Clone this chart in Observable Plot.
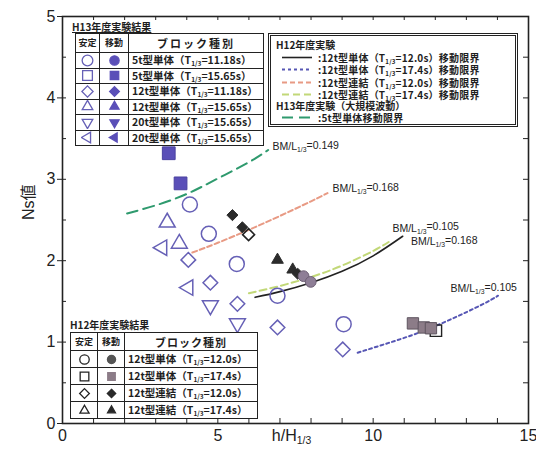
<!DOCTYPE html>
<html>
<head>
<meta charset="utf-8">
<script src="https://cdn.jsdelivr.net/npm/d3@7"></script>
<script src="https://cdn.jsdelivr.net/npm/@observablehq/plot@0.6"></script>
<style>
  html,body{margin:0;padding:0;background:#fff;}
  #wrap{position:relative;width:536px;height:452px;overflow:hidden;background:#fff;}
  #wrap > svg{position:absolute;left:0;top:0;}
  .jp{font-family:"Noto Sans CJK JP","Noto Sans",sans-serif;font-weight:700;color:#1e1e1e;}
  .lg{position:absolute;}
  .lg table{border-collapse:collapse;table-layout:fixed;background:#fff;border:1.6px solid #222;}
  .lg td{border:1.2px solid #222;padding:0;text-align:center;vertical-align:middle;white-space:nowrap;overflow:hidden;line-height:10px;}
  .lg td.name{text-align:left;padding-left:3px;}
  .lg td svg{display:block;margin:0 auto;}
  sub{font-size:0.62em;vertical-align:-0.3em;line-height:0;}
  .ttl{position:absolute;white-space:nowrap;}
  .row{position:absolute;height:11px;line-height:11px;white-space:nowrap;font-size:10px;letter-spacing:0.2px;}
</style>
</head>
<body>
<div id="wrap"></div>
<script>
// ---------------- data ----------------
const xTickValues = [0, 5, 10, 15];
const yTickValues = [0, 1, 2, 3, 4, 5];
const xMinorTicks = [1, 2, 3, 4, 5, 6, 7, 8, 9, 10, 11, 12, 13, 14];
const yMinorTicks = [0.5, 1, 1.5, 2, 2.5, 3, 3.5, 4, 4.5];

// H13 results  [h/H1/3, Ns]
const h13_5t_1118_stable  = [[4.10, 2.69], [4.71, 2.33], [5.61, 1.96], [6.92, 1.57], [9.05, 1.22]];
const h13_5t_1565_moved   = [[3.42, 3.32], [3.80, 2.95]];
const h13_12t_1118_stable = [[4.05, 2.01], [4.76, 1.73], [5.63, 1.47], [6.92, 1.18], [9.02, 0.91]];
const h13_12t_1565_stable = [[3.37, 2.47], [3.76, 2.21]];
const h13_20t_1565_stable = [[4.76, 1.45], [5.63, 1.23]];
const h13_20t_1565b_stable = [[3.21, 2.16], [4.05, 1.67]];

// H12 results
const h12_single_120_moved = [[7.76, 1.81], [7.99, 1.74]];
const h12_single_174_stable = [[12.02, 1.14]];
const h12_single_174_moved  = [[11.28, 1.23], [11.63, 1.18], [11.86, 1.17]];
const h12_joint_120_stable  = [[5.99, 2.32]];
const h12_joint_120_moved   = [[5.47, 2.56], [5.79, 2.41], [7.57, 1.84]];
const h12_joint_174_moved   = [[6.92, 2.01], [7.41, 1.89]];

// movement-limit curves
const limitH13_5t        = [[2.08, 2.58], [3.0, 2.68], [4.0, 2.82], [5.0, 3.01], [6.0, 3.21], [6.62, 3.36]];
const limitH12_single120 = [[6.2, 1.55], [7.0, 1.62], [8.0, 1.73], [9.0, 1.87], [10.0, 2.06], [10.95, 2.30]];
const limitH12_single174 = [[9.5, 0.87], [10.5, 0.99], [11.5, 1.12], [12.5, 1.28], [13.5, 1.46], [14.02, 1.57]];
const limitH12_joint120  = [[4.18, 2.10], [5.0, 2.22], [6.0, 2.38], [7.0, 2.55], [8.0, 2.73], [8.53, 2.83]];
const limitH12_joint174  = [[6.0, 1.60], [7.0, 1.69], [8.0, 1.80], [9.0, 1.94], [10.0, 2.12], [10.5, 2.23]];

const curveLabels = ["BM/L_{1/3}=0.149", "BM/L_{1/3}=0.168", "BM/L_{1/3}=0.105", "BM/L_{1/3}=0.168", "BM/L_{1/3}=0.105"];
const curveLabelX = [6.76, 8.69, 10.62, 11.22, 12.49];
const curveLabelY = [3.40, 2.89, 2.40, 2.23, 1.66];

const h13LegendTitle = "H13年度実験結果";
const h13LegendNames = ["5t型単体（T_{1/3}=11.18s）", "5t型単体（T_{1/3}=15.65s）", "12t型単体（T_{1/3}=11.18s）",
                        "12t型単体（T_{1/3}=15.65s）", "20t型単体（T_{1/3}=15.65s）", "20t型単体（T_{1/3}=15.65s）"];
const h12LegendTitle = "H12年度実験結果";
const h12LegendNames = ["12t型単体（T_{1/3}=12.0s）", "12t型単体（T_{1/3}=17.4s）", "12t型連結（T_{1/3}=12.0s）", "12t型連結（T_{1/3}=17.4s）"];
const tableHeaders = ["安定", "移動", "ブロック種別"];
const lineLegendTitles = ["H12年度実験", "H13年度実験（大規模波動）"];
const lineLegendNames = [":12t型単体（T_{1/3}=12.0s）移動限界", ":12t型単体（T_{1/3}=17.4s）移動限界",
                         ":12t型連結（T_{1/3}=12.0s）移動限界", ":12t型連結（T_{1/3}=17.4s）移動限界", ":5t型単体移動限界"];
const xLabel = "h/H_{1/3}";
const yLabel = "Ns値";

// ---------------- styles ----------------
const PURPLE = "#6660b6";
const PURPLE_FILL = "#5a4fb8";
const INK = "#222";
const lineStyles = {
  single120: {stroke: "#222", strokeWidth: 1.6, dash: null},
  single174: {stroke: "#5656b4", strokeWidth: 2, dash: "3,3"},
  joint120:  {stroke: "#e89a84", strokeWidth: 2, dash: "5,3"},
  joint174:  {stroke: "#c2d878", strokeWidth: 2, dash: "7,4"},
  h13:       {stroke: "#2f9a6e", strokeWidth: 2, dash: "11,6"}
};

const triDown = {draw(ctx, size) {
  const s = Math.sqrt(size) * 0.6824, t = s / 2, u = s * Math.sqrt(3) / 2;
  ctx.moveTo(0, s); ctx.lineTo(-u, -t); ctx.lineTo(u, -t); ctx.closePath();
}};
const triLeft = {draw(ctx, size) {
  const s = Math.sqrt(size) * 0.6824, t = s / 2, u = s * Math.sqrt(3) / 2;
  ctx.moveTo(-s, 0); ctx.lineTo(t, -u); ctx.lineTo(t, u); ctx.closePath();
}};
const SYM = {circle: d3.symbolCircle, square: d3.symbolSquare, diamond: d3.symbolDiamond2,
             triangle: d3.symbolTriangle2, triDown, triLeft};

const X = d => d[0], Y = d => d[1];
const openDot = (data, symbol, r, stroke, sw = 1.5) =>
  Plot.dot(data, {x: X, y: Y, symbol: SYM[symbol], r, stroke, strokeWidth: sw, fill: "none"});
const fillDot = (data, symbol, r, fill, stroke) =>
  Plot.dot(data, {x: X, y: Y, symbol: SYM[symbol], r, fill, stroke, strokeWidth: 1});
const limitLine = (data, st) =>
  Plot.line(data, {x: X, y: Y, stroke: st.stroke, strokeWidth: st.strokeWidth, strokeDasharray: st.dash, curve: "natural"});

const innerW = 536 - 62 - 8, innerH = 452 - 16 - 29;

const chart = Plot.plot({
  width: 536, height: 452,
  marginLeft: 62, marginRight: 8, marginTop: 16, marginBottom: 29,
  x: {domain: [0, 15]},
  y: {domain: [0, 5]},
  style: {fontFamily: "'Liberation Sans', Arial, 'Noto Sans CJK JP', sans-serif", background: "white", color: INK},
  marks: [
    Plot.frame({stroke: INK, strokeWidth: 1.6}),
    Plot.axisX({ticks: xTickValues, tickFormat: "d", tickSize: 0, tickPadding: 6, fontSize: 16, label: null}),
    Plot.axisY({ticks: yTickValues, tickFormat: "d", tickSize: 5, tickPadding: 2, fontSize: 16, label: null}),
    Plot.tickX(xMinorTicks, {x: d => d, insetTop: innerH - 5, stroke: INK, strokeWidth: 1}),
    Plot.tickX(xMinorTicks, {x: d => d, insetBottom: innerH - 4, stroke: INK, strokeWidth: 1}),
    Plot.tickY(yMinorTicks, {y: d => d, insetRight: innerW - 4, stroke: INK, strokeWidth: 1}),
    Plot.tickY(yMinorTicks, {y: d => d, insetLeft: innerW - 5, stroke: INK, strokeWidth: 1}),
    Plot.text([yLabel], {frameAnchor: "left", dx: -34, rotate: -90, text: d => d, fontSize: 16, fill: INK}),
    Plot.text([xLabel], {frameAnchor: "bottom", dy: 17, dx: -4, text: d => d, fontSize: 16, fill: INK}),

    limitLine(limitH13_5t, lineStyles.h13),
    limitLine(limitH12_joint120, lineStyles.joint120),
    limitLine(limitH12_joint174, lineStyles.joint174),
    limitLine(limitH12_single120, lineStyles.single120),
    limitLine(limitH12_single174, lineStyles.single174),

    Plot.text(curveLabels, {x: (d, i) => curveLabelX[i], y: (d, i) => curveLabelY[i], text: d => d,
      textAnchor: "start", fontSize: 10.5, fill: INK}),

    openDot(h13_5t_1118_stable, "circle", 7.5, PURPLE),
    openDot(h13_12t_1118_stable, "diamond", 6.6, PURPLE),
    openDot(h13_12t_1565_stable, "triangle", 7.6, PURPLE),
    openDot(h13_20t_1565_stable, "triDown", 7.6, PURPLE),
    openDot(h13_20t_1565b_stable, "triLeft", 7.4, PURPLE),
    fillDot(h13_5t_1565_moved, "square", 7.2, PURPLE_FILL, "#4a42a0"),

    openDot(h12_single_174_stable, "square", 6.4, INK, 1.4),
    fillDot(h12_single_174_moved, "square", 6.4, "#8c7c88", "#5f5560"),
    fillDot(h12_joint_174_moved, "triangle", 5.6, "#2c2c2c", "#2c2c2c"),
    openDot(h12_joint_120_stable, "diamond", 5.4, INK, 1.6),
    fillDot(h12_joint_120_moved, "diamond", 5.0, "#2a2a2a", "#2a2a2a"),
    fillDot(h12_single_120_moved, "circle", 5.4, "#8e7e96", "#6e6075")
  ]
});

// subscripts for "_{...}" in svg texts
function applySub(svg) {
  const ns = "http://www.w3.org/2000/svg";
  svg.querySelectorAll("text").forEach(t => {
    const txt = t.textContent;
    if (!txt.includes("_{")) return;
    const parts = txt.split(/_\{([^}]*)\}/);
    while (t.firstChild) t.removeChild(t.firstChild);
    parts.forEach((p, i) => {
      if (!p) return;
      const ts = document.createElementNS(ns, "tspan");
      ts.textContent = p;
      if (i % 2 === 1) { ts.setAttribute("font-size", "0.65em"); ts.setAttribute("dy", "0.3em"); }
      else if (i > 0) { ts.setAttribute("dy", "-0.3em"); }
      t.appendChild(ts);
    });
  });
}
applySub(chart);

const wrap = document.getElementById("wrap");
wrap.appendChild(chart);

// ---------------- legends (HTML overlays) ----------------
const subHtml = s => s.replace(/_\{([^}]*)\}/g, "<sub>$1</sub>");
function symSvg(shape, filled, color, size, box = 13) {
  const path = d3.symbol(SYM[shape], size)();
  return `<svg width="${box}" height="${box}" viewBox="${-box/2} ${-box/2} ${box} ${box}">` +
    `<path d="${path}" fill="${filled ? color : "none"}" stroke="${color}" stroke-width="1.3"/></svg>`;
}

function makeTable({left, top, cols, headH, rowH, names, shapes, colorOpen, colorFill, sizes, headFont, headSpacing, nameFont}) {
  const div = document.createElement("div");
  div.className = "lg jp";
  div.style.left = left + "px"; div.style.top = top + "px";
  let html = `<table style="width:${cols[0] + cols[1] + cols[2]}px"><colgroup>` +
    cols.map(c => `<col style="width:${c}px">`).join("") + `</colgroup>`;
  html += `<tr style="height:${headH}px">` +
    `<td style="font-size:9px">${tableHeaders[0]}</td><td style="font-size:9px">${tableHeaders[1]}</td>` +
    `<td style="font-size:${headFont}px;letter-spacing:${headSpacing}px">${tableHeaders[2]}</td></tr>`;
  names.forEach((n, i) => {
    const fc = Array.isArray(colorFill) ? colorFill[i] : colorFill;
    html += `<tr style="height:${rowH}px"><td>${symSvg(shapes[i], false, colorOpen, sizes[i])}</td>` +
      `<td>${symSvg(shapes[i], true, fc, sizes[i] * 0.75)}</td>` +
      `<td class="name" style="font-size:${nameFont}px">${subHtml(n)}</td></tr>`;
  });
  html += `</table>`;
  div.innerHTML = html;
  wrap.appendChild(div);
}

function addText(text, left, top, size, extra = "") {
  const d = document.createElement("div");
  d.className = "ttl jp";
  d.style.cssText += `left:${left}px;top:${top}px;font-size:${size}px;line-height:${size + 1}px;${extra}`;
  d.innerHTML = subHtml(text);
  wrap.appendChild(d);
}

// H13 results legend
addText(h13LegendTitle, 72, 21, 10, "text-decoration:underline;");
makeTable({left: 75, top: 33, cols: [24, 29, 135], headH: 19, rowH: 15.5, names: h13LegendNames,
  shapes: ["circle", "square", "diamond", "triangle", "triDown", "triLeft"],
  colorOpen: PURPLE, colorFill: PURPLE_FILL, sizes: [90, 95, 80, 80, 80, 80],
  headFont: 11, headSpacing: 2, nameFont: 10.5});

// H12 results legend
addText(h12LegendTitle, 70, 319, 10);
makeTable({left: 70, top: 332, cols: [27, 27, 133], headH: 18, rowH: 17, names: h12LegendNames,
  shapes: ["circle", "square", "diamond", "triangle"],
  colorOpen: INK, colorFill: ["#555", "#8c7c88", "#2a2a2a", "#2a2a2a"], sizes: [70, 75, 60, 60],
  headFont: 11, headSpacing: 1, nameFont: 10.5});

// line legend box
const box = document.createElement("div");
box.className = "lg";
box.style.cssText = "left:268px;top:33px;width:244px;height:88px;border:3px double #222;background:#fff;";
wrap.appendChild(box);
addText(lineLegendTitles[0], 276, 39, 10);
const lineKeys = ["single120", "single174", "joint120", "joint174", "h13"];
const rowY = [57, 69.5, 82, 94, 117];
lineLegendNames.forEach((n, i) => {
  const st = lineStyles[lineKeys[i]];
  const d = document.createElement("div");
  d.className = "row jp";
  d.style.left = "282px"; d.style.top = (rowY[i] - 5.5) + "px";
  d.innerHTML = `<svg width="30" height="11" style="vertical-align:top"><line x1="0" x2="30" y1="5.5" y2="5.5" stroke="${st.stroke}" stroke-width="${st.strokeWidth}" ${st.dash ? `stroke-dasharray="${st.dash}"` : ""}/></svg>` +
    `<span style="margin-left:6px">${subHtml(n)}</span>`;
  wrap.appendChild(d);
});
addText(lineLegendTitles[1], 276, 100, 10);
</script>
</body>
</html>
